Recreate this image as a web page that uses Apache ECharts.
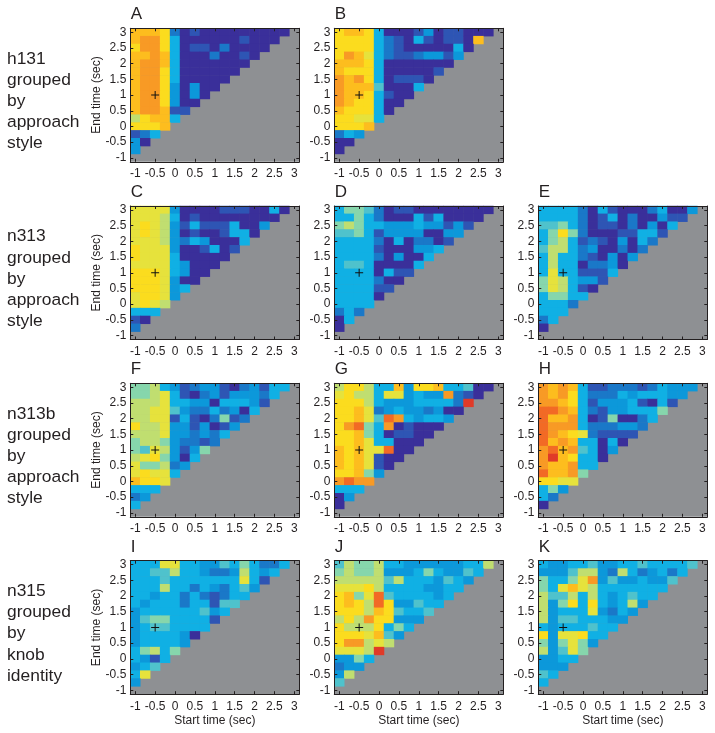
<!DOCTYPE html>
<html><head><meta charset="utf-8">
<style>html,body{margin:0;padding:0;background:#fff}#c{width:715px;height:733px}</style>
<script src="https://cdn.jsdelivr.net/npm/echarts@6/dist/echarts.min.js"></script>
</head><body><div id="c"></div>
<script>
const timeTicks = ['-1','-0.75','-0.5','-0.25','0','0.25','0.5','0.75','1','1.25','1.5','1.75','2','2.25','2.5','2.75','3'];
const panelLetters = ['A','B','C','D','E','F','G','H','I','J','K'];
const rowLabels = ['h131\ngrouped\nby\napproach\nstyle','n313\ngrouped\nby\napproach\nstyle','n313b\ngrouped\nby\napproach\nstyle','n315\ngrouped\nby\nknob\nidentity'];
const colorStops = ['#3a2f9a','#2e55b4','#1a78c8','#0c98da','#10b0e4','#4fc2cc','#86d6ac','#c0de70','#e6e23c','#fbdc1e','#fdbd1e','#f89a25','#f26a25','#e03a28'];

const A = [[10,10,10,9,2,0,1,0,0,0,0,0,0,0,0,0],[10,11,11,9,4,0,0,0,0,0,0,1,0,0,0],[9,11,11,9,4,0,1,1,0,2,0,0,0,0],[10,10,11,10,4,0,0,0,2,0,0,1,0],[10,11,11,10,4,0,0,0,0,0,0,0],[10,11,11,9,4,0,0,0,0,0,0],[10,11,11,9,4,0,0,0,0,0],[10,11,11,9,3,0,3,0,0],[10,11,11,9,3,0,3,0],[10,11,11,9,3,0,0],[10,11,11,10,1,1],[7,9,10,10,4],[9,9,9,10],[1,2,4],[3,0],[3]];
const B = [[9,10,10,9,4,0,0,0,1,3,0,1,1,0,0,0],[9,9,9,9,4,2,1,0,4,1,0,1,1,0,10],[9,9,9,9,4,2,1,0,0,0,0,0,4,0],[9,11,10,8,4,2,1,1,2,3,3,1,3],[10,10,10,9,4,0,0,0,0,0,0,0],[10,9,9,9,4,0,0,0,0,0,1],[11,10,11,9,4,0,1,1,1,0],[11,10,10,10,5,0,0,0,4],[11,10,10,9,4,1,0,0],[11,10,9,9,4,0,0],[10,9,9,9,4,0],[9,9,8,8,4],[9,9,9,10],[2,4,3],[0,0],[0]];
const C = [[8,8,8,8,3,0,0,0,0,1,1,1,0,0,4,0],[8,8,8,7,4,0,1,0,0,0,0,0,0,0,0],[8,9,8,7,3,1,4,1,1,1,4,0,0,3],[8,9,8,7,3,0,1,0,0,1,4,4,0],[8,8,8,7,3,2,4,3,0,0,0,4],[9,8,8,8,3,0,0,1,4,0,1],[9,8,8,8,4,0,0,0,0,0],[8,8,8,8,4,3,0,0,0],[9,9,9,8,4,3,0,0],[9,9,9,8,3,0,0],[9,9,9,8,3,4],[8,9,9,8,3],[8,9,8,7],[4,4,4],[1,0],[2]];
const D = [[4,6,6,5,2,0,1,1,0,0,0,0,0,0,0,0],[4,4,6,4,2,0,0,0,4,1,4,0,0,0,0],[6,7,6,4,4,3,3,3,4,3,3,1,3,1],[5,5,6,4,1,3,3,3,3,0,0,3,3],[4,4,4,4,2,0,4,0,2,2,0,1],[4,4,4,4,1,0,0,0,3,3,4],[4,4,4,4,2,0,3,0,0,4],[4,5,5,4,0,0,0,0,4],[4,4,4,4,0,4,1,1],[4,4,4,4,2,0,0],[4,4,4,4,1,1],[4,4,4,4,0],[4,4,4,4],[2,4,2],[0,4],[0]];
const E = [[4,4,4,4,2,0,4,1,0,0,0,2,4,0,0,3],[4,4,4,4,2,0,1,4,0,2,0,0,3,1,1],[5,5,6,4,2,0,1,1,0,2,0,3,0,4],[4,6,9,6,2,0,0,0,1,1,4,4,1],[4,6,7,4,1,2,1,0,3,0,4,2],[5,7,7,4,2,3,0,0,2,0,2],[4,7,4,4,2,1,0,3,0,3],[4,7,4,4,0,2,2,3,0],[4,8,4,4,1,1,1,4],[6,8,7,4,3,3,1],[6,8,7,4,1,0],[4,6,6,4,4],[4,4,4,2],[4,4,4],[2,4],[0]];
const F = [[6,6,7,4,3,1,2,3,3,1,0,2,3,1,4,4],[6,6,7,8,4,1,0,2,3,1,3,3,3,2,4],[7,7,7,8,4,4,3,3,0,4,4,4,3,1],[7,7,8,8,5,3,2,2,4,2,3,0,4],[7,7,8,8,1,4,1,0,2,6,1,2],[9,7,7,8,3,3,1,3,0,1,3],[7,7,7,8,3,3,2,3,2,4],[6,7,7,6,3,2,2,1,2],[6,5,8,7,3,1,3,6],[7,8,9,6,3,0,4],[8,6,6,7,2,3],[8,9,8,8,4],[10,9,9,8],[4,4,4],[2,3],[4]];
const G = [[7,9,9,7,4,4,10,3,9,9,10,4,4,5,0,0],[8,9,7,7,4,8,8,3,4,3,3,11,2,1,0],[9,9,9,7,4,3,3,3,4,4,4,4,2,13],[9,9,10,8,2,3,4,3,3,2,3,0,0],[9,9,10,8,5,12,11,4,3,4,4,3],[9,11,12,6,4,11,0,1,0,0,0],[9,9,10,6,4,0,1,1,0,0],[9,9,10,8,4,4,0,0,0],[10,9,10,8,8,12,0,0],[10,9,10,8,1,0,0],[10,9,10,8,1,0],[9,9,10,6,3],[11,12,11,11],[4,4,4],[0,3],[0]];
const H = [[11,10,11,10,4,1,1,2,2,2,1,2,4,3,3,3],[11,10,11,9,4,2,2,2,4,3,4,4,4,3,3],[11,11,10,9,4,1,3,3,3,4,1,0,4,1],[12,12,11,10,4,2,1,3,3,4,4,4,6],[12,10,10,11,4,0,1,6,0,0,2,4],[12,11,11,11,4,2,2,2,3,3,2],[12,11,10,9,8,2,1,1,1,1],[12,10,11,10,4,4,0,4,0],[11,12,10,11,5,4,0,3],[11,13,10,9,4,4,0],[11,10,10,11,4,4],[12,10,10,11,6],[9,9,8,8],[4,6,3],[4,2],[0]];
const I = [[4,4,4,8,8,4,4,3,3,5,4,6,4,2,2,4],[4,4,5,5,7,4,4,3,2,2,3,7,4,3,4],[4,4,4,5,4,4,4,4,4,4,4,8,4,1],[4,4,4,7,4,4,2,4,3,2,4,5,3],[4,4,3,4,4,2,4,2,1,2,4,4],[4,3,4,4,4,2,4,4,1,5,5],[3,4,4,4,4,4,4,5,3,4],[3,5,6,6,4,4,4,4,1],[3,4,5,5,4,4,4,4],[3,4,4,4,4,3,0],[3,4,4,4,4,3],[4,6,7,4,6],[4,3,1,4],[3,4,5],[4,8],[3]];
const J = [[5,7,6,6,7,4,4,3,3,3,3,3,3,4,4,7],[6,7,6,6,7,3,3,3,4,6,4,3,3,5,4],[7,7,7,7,7,5,7,4,4,4,3,5,4,3],[8,8,8,9,7,4,4,4,4,3,3,4,4],[9,10,6,8,12,5,4,4,4,4,3,4],[9,10,9,7,12,9,3,3,5,4,4],[9,9,9,7,10,9,5,4,4,5],[7,9,7,11,9,9,3,3,3],[9,7,7,7,9,4,6,4],[9,9,9,8,10,5,3],[9,11,11,7,8,7],[8,8,8,7,13],[3,3,6,4],[2,3,3],[3,7],[5]];
const K = [[4,3,3,4,4,5,3,3,4,4,5,4,4,4,4,5],[3,3,3,5,7,7,3,2,7,4,2,3,4,2,4],[6,4,4,6,8,11,3,5,3,3,4,3,3,5],[6,4,8,10,8,7,4,4,4,4,4,4,4],[7,5,5,7,4,7,4,3,4,5,4,4],[7,3,6,9,4,9,4,3,4,7,3],[7,3,4,4,4,8,3,2,4,3],[7,3,5,5,4,4,4,3,3],[4,3,4,4,4,5,4,4],[9,3,8,8,9,4,4],[6,3,6,8,6,3],[7,3,5,8,6],[3,3,4,4],[3,3,3],[5,4],[4]];

const panels = [A,B,C,D,E,F,G,H,I,J,K];
const panelRow = [0,0,1,1,1,2,2,2,3,3,3];
const panelCol = [0,1,0,1,2,0,1,2,0,1,2];
const colLeft = [130.3,334.3,538.3];
const rowTop = [28.3,206,383.3,560.7];
const plotW = 169, plotH = 133.5;
const markerStart = '-0.5', markerEnd = '1';
const ink = '#231f20', font = '"Liberation Sans", Arial, sans-serif';

const grid=[],xAxis=[],yAxis=[],series=[],graphic=[],heatIdx=[];
panels.forEach((rows,p)=>{
  const rw=panelRow[p], cl=panelCol[p], left=colLeft[cl], top=rowTop[rw];
  grid.push({left,top,width:plotW,height:plotH,show:true,backgroundColor:'#8e9093',borderWidth:0,containLabel:false});
  const tick={show:true,inside:true,alignWithLabel:true,interval:1,length:3,lineStyle:{color:ink,width:1}};
  const line={show:true,onZero:false,lineStyle:{color:ink,width:1}};
  const label={interval:1,color:ink,fontFamily:font,fontSize:12};
  xAxis.push({gridIndex:p,type:'category',data:timeTicks,position:'bottom',z:5,axisLine:line,axisTick:tick,
    axisLabel:{...label,margin:6},splitLine:{show:false},
    name:rw===3?'Start time (sec)':'',nameLocation:'middle',nameGap:20,nameTextStyle:{color:ink,fontFamily:font,fontSize:12}});
  xAxis.push({gridIndex:p,type:'category',data:timeTicks,position:'top',z:5,axisLine:line,axisTick:tick,axisLabel:{show:false},splitLine:{show:false}});
  yAxis.push({gridIndex:p,type:'category',data:timeTicks,position:'left',z:5,axisLine:line,axisTick:tick,
    axisLabel:{...label,margin:4},splitLine:{show:false},
    name:cl===0?'End time (sec)':'',nameLocation:'middle',nameRotate:90,nameGap:28,nameMoveOverlap:false,nameTextStyle:{color:ink,fontFamily:font,fontSize:12}});
  yAxis.push({gridIndex:p,type:'category',data:timeTicks,position:'right',z:5,axisLine:line,axisTick:tick,axisLabel:{show:false},splitLine:{show:false}});
  const data=[];
  rows.forEach((vals,r)=>vals.forEach((v,c)=>data.push([c,16-r,v])));
  heatIdx.push(series.length);
  series.push({type:'heatmap',xAxisIndex:2*p,yAxisIndex:2*p,data,itemStyle:{borderWidth:0},emphasis:{disabled:true},animation:false,z:2,progressive:0});
  series.push({type:'scatter',xAxisIndex:2*p,yAxisIndex:2*p,data:[[markerStart,markerEnd]],z:3,silent:true,animation:false,
    symbol:'path://M3.5 0h1v3.5h3.5v1h-3.5v3.5h-1v-3.5h-3.5v-1h3.5z',symbolSize:8,itemStyle:{color:'#111',opacity:1}});
  graphic.push({type:'text',left:left+0.5,top:top-22,style:{text:panelLetters[p],font:'17px '+font,fill:ink}});
});
rowLabels.forEach((t,i)=>{
  graphic.push({type:'text',left:7,top:rowTop[i]+20,style:{text:t,font:'17.4px '+font,fill:ink,lineHeight:21.2}});
});
const chart=echarts.init(document.getElementById('c'),null,{renderer:'canvas'});
chart.setOption({animation:false,backgroundColor:'#fff',grid,xAxis,yAxis,series,graphic,
  visualMap:{show:false,type:'continuous',min:0,max:13,seriesIndex:heatIdx,inRange:{color:colorStops}}});
</script></body></html>
